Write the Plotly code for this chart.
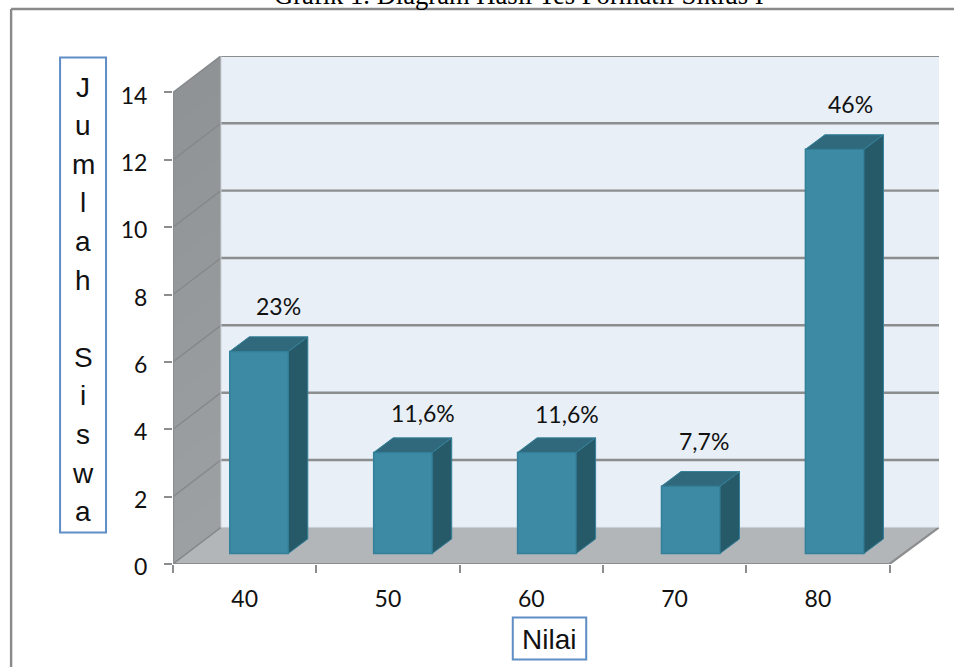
import plotly.graph_objects as go

# Chart data
NILAI = ["40", "50", "60", "70", "80"]
JUMLAH_SISWA = [6, 3, 3, 2, 12]
PERSEN = ["23%", "11,6%", "11,6%", "7,7%", "46%"]
Y_TICKS = [0, 2, 4, 6, 8, 10, 12, 14]
JUDUL = "Grafik 1. Diagram Hasil Tes Formatif Siklus I"
SUMBU_Y = "Jumlah Siswa"
SUMBU_X = "Nilai"

# Page and plot-area geometry, in pixels
W, H = 954, 667
LEFT, RIGHT, TOP, BOTTOM = 172.5, 939.0, 56.0, 564.0
CAT_PX, UNIT_PX = 143.4, 33.68

# Data-space ranges and the oblique projection of the 3D box
X0 = -0.5
X_FRONT_END = X0 + len(NILAI)
X1 = X0 + (RIGHT - LEFT) / CAT_PX
Y1 = (BOTTOM - TOP) / UNIT_PX
Y_TOP = max(Y_TICKS)
DEPTH_X, DEPTH_Y = 48.0 / CAT_PX, 36.6 / UNIT_PX

# Column geometry in data units
BAR_W = 58.6 / CAT_PX
BAR_PITCH = 144.0 / CAT_PX
BAR_SHIFT = 14.4 / CAT_PX
BAR_LIFT = 10.5 / UNIT_PX
BAR_DX, BAR_DY = 19.5 / CAT_PX, 14.6 / UNIT_PX

GRID = "#8b8d8f"
FRONT = "#3c8aa3"
EDGE = "#34809a"
SIDE = "#265a69"
CAP = "#30697b"


def px_x(px):
    return (px - LEFT) / (RIGHT - LEFT)


def px_y(py):
    return 1 - (py - TOP) / (BOTTOM - TOP)


def poly(points):
    return "M " + " L ".join(f"{x},{y}" for x, y in points) + " Z"


def data_shape(path, **kw):
    return dict(type="path", path=path, xref="x", yref="y", layer="below", **kw)


shapes = []

# Back wall
shapes.append(data_shape(
    poly([(X0 + DEPTH_X, DEPTH_Y), (X1, DEPTH_Y), (X1, Y_TOP + DEPTH_Y), (X0 + DEPTH_X, Y_TOP + DEPTH_Y)]),
    fillcolor="#e8eff6", line=dict(width=0),
))

# Side wall, painted from the top down in slightly lightening steps
STEPS = 14
for i in range(STEPS):
    t = i / (STEPS - 1)
    shade = (int(144 + 13 * t), int(147 + 13 * t), int(150 + 13 * t))
    top = Y_TOP * (1 - i / STEPS)
    shapes.append(data_shape(
        poly([(X0, 0), (X0 + DEPTH_X, DEPTH_Y), (X0 + DEPTH_X, top + DEPTH_Y), (X0, top)]),
        fillcolor=f"rgb{shade}", line=dict(width=0),
    ))

# Floor
shapes.append(data_shape(
    poly([(X0, 0), (X_FRONT_END, 0), (X1, DEPTH_Y), (X0 + DEPTH_X, DEPTH_Y)]),
    fillcolor="#b2b6b9", line=dict(width=0),
))

# Gridlines across the side wall and the back wall
for tick in Y_TICKS[1:]:
    shapes.append(data_shape(
        f"M {X0},{tick} L {X0 + DEPTH_X},{tick + DEPTH_Y}",
        line=dict(color="#85888a", width=1.4),
    ))
    shapes.append(data_shape(
        f"M {X0 + DEPTH_X},{tick + DEPTH_Y} L {X1},{tick + DEPTH_Y}",
        line=dict(color=GRID, width=2.4),
    ))

# Box outline: axis edges and the floor's slanted front corners
shapes.append(data_shape(f"M {X0},{Y_TOP} L {X0},0 L {X_FRONT_END},0 L {X1},{DEPTH_Y}",
                         line=dict(color=GRID, width=2.2)))
shapes.append(data_shape(f"M {X0},0 L {X0 + DEPTH_X},{DEPTH_Y}", line=dict(color="#85888a", width=1.4)))
shapes.append(data_shape(f"M {X0 + DEPTH_X},{DEPTH_Y} L {X1},{DEPTH_Y}", line=dict(color="#c9ced2", width=1)))
shapes.append(data_shape(f"M {X0 + DEPTH_X},{DEPTH_Y} L {X0 + DEPTH_X},{Y_TOP + DEPTH_Y}",
                         line=dict(color="#c9ced2", width=1)))

fig = go.Figure()

# Front faces of the columns
xs = list(range(len(NILAI)))
bar_xs = [x * BAR_PITCH + BAR_SHIFT for x in xs]
fig.add_trace(go.Bar(
    x=bar_xs,
    y=JUMLAH_SISWA,
    base=BAR_LIFT,
    width=BAR_W,
    marker=dict(color=FRONT, line=dict(color=EDGE, width=1.5)),
    hoverinfo="skip",
    showlegend=False,
))

# Side and top faces of each column, projected from its value
for x, v in zip(bar_xs, JUMLAH_SISWA):
    xl = x - BAR_W / 2
    xr = x + BAR_W / 2
    yb = BAR_LIFT
    yt = BAR_LIFT + v
    fig.add_trace(go.Scatter(
        x=[xr, xr + BAR_DX, xr + BAR_DX, xr, xr],
        y=[yb, yb + BAR_DY, yt + BAR_DY, yt, yb],
        mode="lines", fill="toself", fillcolor=SIDE,
        line=dict(color=EDGE, width=1), hoverinfo="skip", showlegend=False,
    ))
    fig.add_trace(go.Scatter(
        x=[xl, xl + BAR_DX, xr + BAR_DX, xr, xl],
        y=[yt, yt + BAR_DY, yt + BAR_DY, yt, yt],
        mode="lines", fill="toself", fillcolor=CAP,
        line=dict(color=EDGE, width=1), hoverinfo="skip", showlegend=False,
    ))

annotations = []

# Percentage labels above the columns, with per-label placement in pixels
LABEL_SHIFT = [(19, 45), (20.5, 39), (20, 38), (13, 45), (16, 45)]
for x, v, text, (sx, sy) in zip(bar_xs, JUMLAH_SISWA, PERSEN, LABEL_SHIFT):
    annotations.append(dict(
        x=x, y=BAR_LIFT + v, xref="x", yref="y", text=text, showarrow=False,
        xshift=sx, yshift=sy, xanchor="center", yanchor="middle",
        font=dict(family="Lato", size=23, color="#111111"),
    ))

# Title, sitting against the top edge of the page
annotations.append(dict(
    x=px_x(519), y=px_y(-5), xref="paper", yref="paper", text=JUDUL, showarrow=False,
    xanchor="center", yanchor="middle",
    font=dict(family="Liberation Serif", size=26.6, color="#000000"),
))

# Vertical axis title, one letter per row inside its box
row_y = 87.0
for ch in SUMBU_Y:
    if ch != " ":
        annotations.append(dict(
            x=px_x(82.5), y=px_y(row_y), xref="paper", yref="paper", text=ch, showarrow=False,
            xanchor="center", yanchor="middle",
            font=dict(family="Liberation Sans", size=28, color="#111111"),
        ))
    row_y += 38.6

# Horizontal axis title
annotations.append(dict(
    x=px_x(549), y=px_y(639), xref="paper", yref="paper", text=SUMBU_X, showarrow=False,
    xanchor="center", yanchor="middle",
    font=dict(family="Liberation Sans", size=28, color="#111111"),
))


def paper_line(x0, y0, x1, y1, **line):
    return dict(type="line", xref="paper", yref="paper", x0=px_x(x0), y0=px_y(y0),
                x1=px_x(x1), y1=px_y(y1), line=line, layer="above")


def paper_box(x0, y0, x1, y1):
    return dict(type="rect", xref="paper", yref="paper", x0=px_x(x0), y0=px_y(y0),
                x1=px_x(x1), y1=px_y(y1), line=dict(color="#5f8dc6", width=2), layer="above")


# Chart frame and the two axis-title boxes
shapes.append(paper_line(10.5, 9, 954, 9, color="#8a8a8a", width=2.4))
shapes.append(paper_line(10.5, 9, 10.5, 667, color="#8a8a8a", width=2.4))
shapes.append(paper_box(59.5, 57.5, 105.5, 532.5))
shapes.append(paper_box(512.5, 617.5, 586, 659.5))

fig.update_layout(
    width=W, height=H, autosize=False,
    margin=dict(l=LEFT, r=W - RIGHT, t=TOP, b=H - BOTTOM, pad=0),
    paper_bgcolor="white", plot_bgcolor="rgba(0,0,0,0)",
    shapes=shapes, annotations=annotations, showlegend=False,
    xaxis=dict(
        range=[X0, X1], showgrid=False, zeroline=False, showline=False,
        tickmode="array", tickvals=xs, ticktext=NILAI, ticks="", ticklabelstandoff=19,
        tickfont=dict(family="Lato", size=23, color="#111111"),
        minor=dict(tickmode="array", tickvals=[X0 + i for i in range(len(NILAI) + 1)],
                   ticks="outside", ticklen=8, tickwidth=2, tickcolor=GRID, showgrid=False),
    ),
    yaxis=dict(
        range=[0, Y1], showgrid=False, zeroline=False, showline=False,
        tickmode="array", tickvals=Y_TICKS, ticks="outside", ticklen=8, tickwidth=2,
        tickcolor=GRID, ticklabelstandoff=12, ticklabelshift=3,
        tickfont=dict(family="Lato", size=23, color="#111111"),
    ),
)

fig.write_html("out.html", config=dict(displayModeBar=False))
